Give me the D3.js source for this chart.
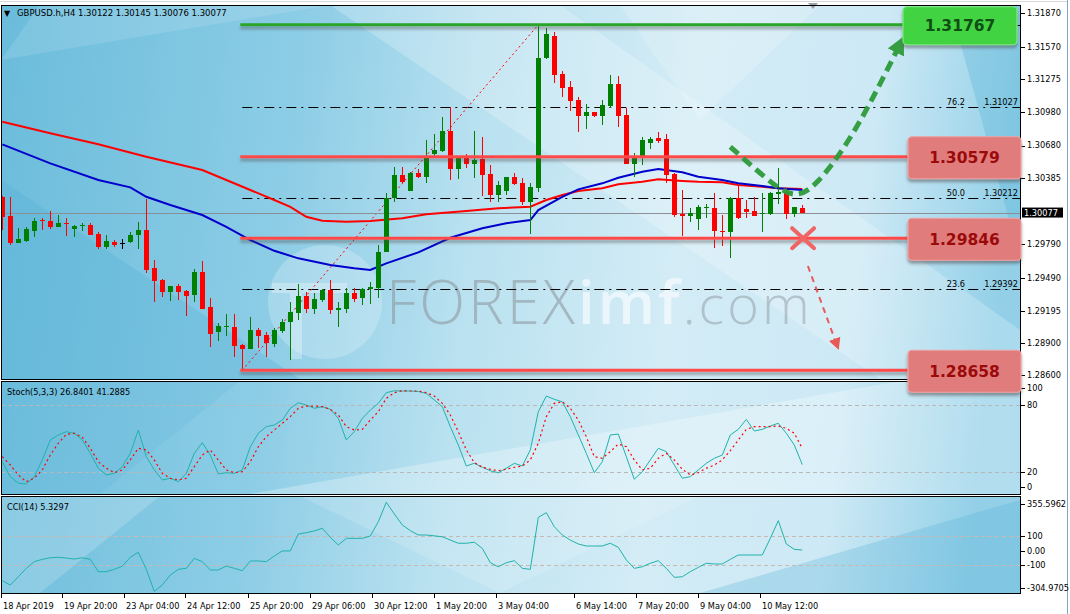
<!DOCTYPE html>
<html><head><meta charset="utf-8">
<script src="https://cdn.jsdelivr.net/npm/d3@7"></script>
<style>
body{margin:0;background:#fff;}
svg{display:block;font-family:"DejaVu Sans",sans-serif;}
</style>
</head><body>
<svg id="c" width="1070" height="614"></svg>
<script>
// ---------------- DATA ----------------
const openP = [1.30219,1.30046,1.29805,1.29823,1.29913,1.30010,1.30001,1.29949,1.29983,1.29926,
1.29956,1.29965,1.29884,1.29769,1.29812,1.29805,1.29812,1.29872,1.29920,1.29575,
1.29470,1.29364,1.29418,1.29373,1.29335,1.29542,1.29227,1.29004,1.29049,1.29044,
1.28885,1.28851,1.29020,1.28975,1.28891,1.29011,1.29089,1.29175,1.29326,1.29206,
1.29290,1.29380,1.29202,1.29209,1.29353,1.29305,1.29389,1.29395,1.29724,1.30210,
1.30415,1.30273,1.30435,1.30399,1.30601,1.30633,1.30811,1.30469,1.30570,1.30514,
1.30559,1.30424,1.30235,1.30271,1.30394,1.30340,1.30174,1.30300,1.31470,1.31666,
1.31321,1.31209,1.31090,1.30948,1.30979,1.30948,1.31038,1.31231,1.30955,1.30516,
1.30570,1.30705,1.30745,1.30739,1.30424,1.30064,1.30048,1.30019,1.30120,1.30120,
1.29911,1.29899,1.30210,1.30109,1.30091,1.30061,1.30066,1.30241,1.30259,1.30064,
1.30122];
const highP = [1.30225,1.30219,1.29935,1.29944,1.30025,1.30025,1.30091,1.30055,1.30030,1.29965,
1.29985,1.29983,1.29904,1.29875,1.29830,1.29836,1.29904,1.29992,1.30199,1.29650,
1.29475,1.29420,1.29434,1.29380,1.29569,1.29638,1.29305,1.29085,1.29164,1.29164,
1.28894,1.29139,1.29035,1.29004,1.29038,1.29119,1.29269,1.29431,1.29359,1.29350,
1.29389,1.29470,1.29269,1.29395,1.29395,1.29395,1.29454,1.29785,1.30250,1.30484,
1.30484,1.30444,1.30466,1.30730,1.30781,1.30939,1.31024,1.30579,1.30601,1.30811,
1.30757,1.30505,1.30363,1.30399,1.30430,1.30385,1.30340,1.31767,1.31740,1.31704,
1.31351,1.31261,1.31119,1.31051,1.30985,1.31090,1.31315,1.31306,1.31020,1.30610,
1.30759,1.30759,1.30804,1.30784,1.30430,1.30280,1.30120,1.30145,1.30151,1.30250,
1.30055,1.30219,1.30325,1.30190,1.30219,1.30250,1.30265,1.30475,1.30295,1.30130,
1.30145];
const lowP = [1.29920,1.29785,1.29800,1.29814,1.29854,1.29920,1.29931,1.29944,1.29868,1.29854,
1.29913,1.29872,1.29749,1.29746,1.29769,1.29746,1.29800,1.29749,1.29530,1.29274,
1.29314,1.29283,1.29290,1.29148,1.29269,1.29205,1.28869,1.28923,1.28968,1.28774,
1.28658,1.28846,1.28855,1.28779,1.28867,1.28990,1.28750,1.29110,1.29175,1.29161,
1.29274,1.29161,1.29049,1.29170,1.29269,1.29245,1.29251,1.29310,1.29720,1.30174,
1.30345,1.30270,1.30385,1.30340,1.30565,1.30624,1.30370,1.30379,1.30480,1.30385,
1.30228,1.30174,1.30174,1.30235,1.30325,1.30145,1.29884,1.30264,1.31459,1.31245,
1.31119,1.30993,1.30804,1.30826,1.30937,1.30865,1.31015,1.30849,1.30510,1.30394,
1.30505,1.30649,1.30700,1.30340,1.30039,1.29868,1.29989,1.29920,1.30025,1.29755,
1.29778,1.29670,1.30019,1.30025,1.30045,1.29904,1.30055,1.30151,1.30019,1.30039,
1.30076];
const closeP = [1.30039,1.29800,1.29836,1.29926,1.30003,1.30001,1.29949,1.29980,1.29974,1.29956,
1.29967,1.29877,1.29769,1.29821,1.29782,1.29805,1.29875,1.29920,1.29560,1.29463,
1.29364,1.29416,1.29364,1.29328,1.29539,1.29211,1.28984,1.29056,1.29056,1.28878,
1.28851,1.29020,1.28968,1.28900,1.29020,1.29094,1.29184,1.29326,1.29209,1.29299,
1.29380,1.29200,1.29220,1.29350,1.29299,1.29389,1.29404,1.29719,1.30210,1.30415,
1.30354,1.30433,1.30397,1.30570,1.30640,1.30811,1.30469,1.30570,1.30514,1.30550,
1.30415,1.30235,1.30325,1.30394,1.30334,1.30174,1.30304,1.31465,1.31684,1.31315,
1.31200,1.31083,1.30948,1.30979,1.30943,1.31045,1.31231,1.30948,1.30516,1.30570,
1.30730,1.30739,1.30721,1.30415,1.30055,1.30046,1.30073,1.30129,1.30129,1.29911,
1.29899,1.30210,1.30025,1.30084,1.30048,1.30073,1.30250,1.30265,1.30064,1.30124,
1.30077];

// moving averages (read at sampled bars)
const maRedIdx = [0,6,12,18,25,31,34,36,38,40,43,46,50,53,58,62,66,68,70,72,75,77,80,82,85,87,90,92,95,97,100];
const maRed = [1.30894,1.30790,1.30691,1.30579,1.30460,1.30280,1.30190,1.30129,1.30039,1.30003,1.29994,1.30001,1.30025,1.30061,1.30091,1.30115,1.30129,1.30190,1.30235,1.30271,1.30295,1.30331,1.30354,1.30376,1.30361,1.30354,1.30349,1.30325,1.30309,1.30295,1.30289];
const maBlueIdx = [0,6,12,16,18,21,25,28,31,34,37,41,44,46,48,52,56,60,63,66,67,70,72,75,77,80,82,85,87,90,92,95,97,100];
const maBlue = [1.30691,1.30520,1.30370,1.30304,1.30219,1.30145,1.30055,1.29949,1.29830,1.29733,1.29665,1.29605,1.29575,1.29560,1.29620,1.29719,1.29850,1.29935,1.29980,1.30010,1.30100,1.30219,1.30286,1.30340,1.30390,1.30444,1.30469,1.30439,1.30399,1.30370,1.30340,1.30316,1.30295,1.30280];

const stochMain = [29.4,16.1,10.2,9.6,16.1,31.0,48.8,53.3,56.2,54.8,
48.8,36.9,23.6,17.6,19.1,25.0,36.9,57.7,33.9,22.1,
13.1,14.7,11.6,19.1,36.9,46.4,35.4,18.5,19.6,19.1,
22.1,42.8,54.8,60.7,62.2,66.6,77.1,82.0,80.0,77.1,
78.5,76.2,68.1,48.8,56.2,68.1,75.5,81.5,91.0,92.7,
92.5,92.5,92.0,90.4,84.5,78.5,60.7,44.3,25.6,28.0,
24.5,21.4,19.6,23.6,28.0,25.6,39.9,74.0,88.0,85.1,
82.9,69.6,53.3,36.9,19.6,29.4,53.3,54.1,33.9,13.8,
20.5,31.0,41.4,38.4,26.5,14.7,16.1,22.1,28.0,32.5,
35.4,53.3,58.3,67.2,56.8,58.3,61.3,63.7,54.8,44.3,
26.84];
const stochSignal = [33.9,26.5,17.6,11.6,14.7,22.1,35.4,45.9,53.9,54.8,
51.2,41.4,29.4,23.6,19.6,22.1,31.0,41.4,39.9,31.0,
19.1,14.7,13.1,14.7,25.0,35.4,39.9,31.0,22.1,19.6,
20.5,29.4,42.8,51.7,57.7,63.7,69.6,77.1,79.1,79.1,
78.5,76.2,71.1,60.7,57.7,58.3,66.6,74.0,86.0,91.0,
92.7,92.5,92.5,91.0,88.0,81.5,71.1,56.2,39.9,28.6,
24.5,22.7,21.4,22.7,24.5,25.6,31.0,45.9,69.6,81.5,
82.9,77.1,66.6,51.7,33.9,32.5,38.4,45.2,42.8,31.0,
22.1,23.6,32.5,36.9,31.0,22.7,17.6,19.6,23.6,26.5,
31.0,39.3,48.8,58.3,60.7,60.7,60.7,61.3,59.2,54.8,
41.29];
const cci = [-206,-236,-179,-121,-75,-59,-48,-45,-50,-57,
-48,-59,-144,-144,-128,-105,-45,-10,-128,-280,
-236,-167,-128,-121,-52,-75,-132,-132,-105,-121,
-137,-70,-70,-75,-36,-1,-1,116,125,137,
155,93,40,86,86,86,102,200,335,254,
178,139,109,109,103,97,74,52,52,59,
17,-82,-110,-82,-68,-121,-128,231,263,166,
109,74,47,33,33,33,52,24,-63,-121,
-110,-86,-68,-121,-183,-179,-144,-114,-86,-91,
-91,-59,-29,-29,-29,-29,86,208,47,10,
5.33];

const priceTicks = [1.31870,1.31570,1.31275,1.30980,1.30680,1.30385,1.29790,1.29490,1.29195,1.28900,1.28600];
const lastPrice = 1.30077;
const stochTicks = [100,80,20,0];
const stochLevels = [80,20];
const cciTicks = [355.5962,100,0,-100,-304.9705];
const cciTickLabels = ["355.5962","100","0.00","-100","-304.9705"];
const cciLevels = [100,-100];
const timeTickIdx = [-0.3,7.4,15.2,22.9,30.7,38.5,46.2,54.0,61.7,71.4,79.2,87.0,94.7];
const timeLabels = ["18 Apr 2019","19 Apr 20:00","23 Apr 04:00","24 Apr 12:00","25 Apr 20:00","29 Apr 06:00","30 Apr 12:00","1 May 20:00","3 May 04:00","6 May 14:00","7 May 20:00","9 May 04:00","10 May 12:00"];
const fibStartIdx = 30, fibEndIdx = 67;
const fibLow = 1.28658, fibHigh = 1.31767;
const fibLevels = [0,23.6,50.0,76.2,100.0];
const fibLabelLevels = [23.6,50.0,76.2];
const levelPrices = [1.31767,1.30579,1.29846,1.28658];
const levelKinds = ["up","down","down","down"];

// ---------------- LAYOUT ----------------
const svg = d3.select("#c");
const PL = 1, PR = 1020;
const mainT = 5, mainB = 379, stT = 381, stB = 494, ccT = 496, ccB = 593;

const x = d3.scaleLinear().domain([0,100]).range([2.3,802.3]);
const yM = d3.scaleLinear().domain([1.28600,1.31870]).range([376.7,13.3]);
const yS = d3.scaleLinear().domain([0,100]).range([494.7,382.6]);
const yC = d3.scaleLinear().domain([-100,100]).range([565.3,536.3]);

const defs = svg.append("defs");
const bg = defs.append("linearGradient").attr("id","bg").attr("gradientUnits","userSpaceOnUse")
  .attr("x1",0).attr("y1",0).attr("x2",1020).attr("y2",120);
[[0,"#6abcdb"],[0.3,"#8dcde6"],[0.48,"#b9e1f0"],[0.68,"#d3ecf6"],[0.86,"#cde9f5"],[1,"#93d0e8"]]
  .forEach(s=>bg.append("stop").attr("offset",s[0]).attr("stop-color",s[1]));
const sh = defs.append("filter").attr("id","shadow").attr("filterUnits","userSpaceOnUse")
  .attr("x",0).attr("y",0).attr("width",1070).attr("height",614);
sh.append("feDropShadow").attr("dx",0).attr("dy",3).attr("stdDeviation",1.6).attr("flood-color","#4a4a4a").attr("flood-opacity",0.5);
const mk = (id,color,size)=>{
  defs.append("marker").attr("id",id).attr("viewBox","0 0 10 10").attr("refX",5).attr("refY",5)
   .attr("markerWidth",size).attr("markerHeight",size).attr("orient","auto-start-reverse")
   .attr("markerUnits","userSpaceOnUse")
   .append("path").attr("d","M0,0 L10,5 L0,10 z").attr("fill",color);
};
mk("arrG","#2e9b3a",18); mk("arrR","#e85a5a",12);

const panels = [[mainT,mainB,"cm"],[stT,stB,"cs"],[ccT,ccB,"cc"]];
panels.forEach(([t,b,id])=>{
  defs.append("clipPath").attr("id",id).append("rect").attr("x",PL).attr("y",t).attr("width",PR-PL).attr("height",b-t);
  svg.append("rect").attr("x",PL).attr("y",t).attr("width",PR-PL).attr("height",b-t).attr("fill","url(#bg)");
});

// facets for the background
const facets = svg.append("g");
const fac = (pts,fill,op,clip)=>facets.append("polygon").attr("points",pts.map(p=>p.join(",")).join(" "))
  .attr("fill",fill).attr("opacity",op).attr("clip-path","url(#"+clip+")");
fac([[330,5],[560,5],[1020,330],[1020,379],[880,379]],"#ffffff",0.22,"cm");
fac([[1,180],[1,379],[300,379]],"#5ab3d6",0.35,"cm");
fac([[40,5],[330,5],[1,60]],"#ffffff",0.12,"cm");
fac([[950,5],[1020,5],[1020,260]],"#5cb4d8",0.35,"cm");
fac([[620,5],[820,5],[700,120]],"#ffffff",0.18,"cm");
fac([[1,381],[240,381],[100,494],[1,494]],"#5ab3d6",0.18,"cs");
fac([[250,494],[900,381],[1020,381],[1020,494]],"#ffffff",0.28,"cs");
fac([[1,496],[160,496],[40,593],[1,593]],"#ffffff",0.18,"cc");
fac([[700,593],[1020,500],[1020,593]],"#5ab3d6",0.3,"cc");
fac([[300,496],[700,496],[500,593]],"#ffffff",0.15,"cc");

// watermark
const wm = svg.append("g").attr("clip-path","url(#cm)");
wm.append("circle").attr("cx",325).attr("cy",302).attr("r",57).attr("fill","#ffffff").attr("opacity",0.22);
wm.append("rect").attr("x",272).attr("y",283).attr("width",75).attr("height",10).attr("fill","#ffffff").attr("opacity",0.3);
wm.append("rect").attr("x",290).attr("y",293).attr("width",12).attr("height",66).attr("fill","#ffffff").attr("opacity",0.3);
const wt = wm.append("text").attr("x",386).attr("y",324).attr("font-family","'Open Sans',sans-serif").attr("font-size",60).attr("font-weight",300).attr("letter-spacing",3);
wt.append("tspan").text("FOREX").attr("fill","#8e9aa0").attr("fill-opacity",0.6);
wt.append("tspan").text("imf").attr("fill","#ffffff").attr("fill-opacity",0.6).attr("font-weight",600);
wt.append("tspan").text(".com").attr("fill","#8e9aa0").attr("fill-opacity",0.5).attr("font-size",54);

// ---------------- MAIN PANEL ----------------
const gM = svg.append("g").attr("clip-path","url(#cm)");

// fib levels (dash-dot)
const fibPrice = l => fibLow + l/100*(fibHigh-fibLow);
gM.selectAll("line.fib").data(fibLevels).join("line")
  .attr("x1",x(fibStartIdx)).attr("x2",PR).attr("y1",d=>Math.round(yM(fibPrice(d)))+0.5).attr("y2",d=>Math.round(yM(fibPrice(d)))+0.5)
  .attr("stroke","#000").attr("stroke-width",1).attr("stroke-dasharray","10,5,2,5");
gM.selectAll("text.fl").data(fibLabelLevels).join("text")
  .attr("x",965).attr("y",d=>yM(fibPrice(d))-2).attr("text-anchor","end").attr("font-size",8.2).attr("fill","#000")
  .text(d=>d.toFixed(1));
gM.selectAll("text.fp").data(fibLabelLevels).join("text")
  .attr("x",1018).attr("y",d=>yM(fibPrice(d))-2).attr("text-anchor","end").attr("font-size",8.2).attr("fill","#000")
  .text(d=>fibPrice(d).toFixed(5));
// fib trend line (dotted red)
gM.append("line").attr("x1",x(fibStartIdx)).attr("y1",yM(fibLow)).attr("x2",x(fibEndIdx)).attr("y2",yM(fibHigh))
  .attr("stroke","#ff0000").attr("stroke-width",1).attr("stroke-dasharray","2,3");

// bid line
gM.append("line").attr("x1",PL).attr("x2",PR).attr("y1",Math.round(yM(lastPrice))+0.5).attr("y2",Math.round(yM(lastPrice))+0.5)
  .attr("stroke","#8a8f96").attr("stroke-width",1);

// moving averages
const lineMA = d3.line().x(d=>x(d[0])).y(d=>yM(d[1]));
gM.append("path").datum(d3.zip(maRedIdx,maRed)).attr("d",lineMA).attr("fill","none").attr("stroke","#ff0000").attr("stroke-width",2);
gM.append("path").datum(d3.zip(maBlueIdx,maBlue)).attr("d",lineMA).attr("fill","none").attr("stroke","#0000cc").attr("stroke-width",2);

// candles
const bars = openP.map((o,i)=>({i,o,h:highP[i],l:lowP[i],c:closeP[i]}));
const ccol = d => d.c>d.o ? "#008000" : (d.c<d.o ? "#ff0000" : "#000000");
const gC = gM.append("g").attr("shape-rendering","crispEdges");
gC.selectAll("line").data(bars).join("line")
  .attr("x1",d=>Math.round(x(d.i))+0.5).attr("x2",d=>Math.round(x(d.i))+0.5)
  .attr("y1",d=>yM(d.h)).attr("y2",d=>yM(d.l)).attr("stroke",ccol).attr("stroke-width",1);
gC.selectAll("rect").data(bars).join("rect")
  .attr("x",d=>Math.round(x(d.i))-2).attr("width",5)
  .attr("y",d=>yM(Math.max(d.o,d.c)))
  .attr("height",d=>Math.max(1,Math.abs(yM(d.o)-yM(d.c))))
  .attr("fill",ccol);

// support / resistance lines (drawn objects, on top of candles)
const boxX = k => k==="up" ? 903 : 908;
gM.selectAll("rect.lvl").data(levelPrices).join("rect").attr("class","lvl")
  .attr("x",x(fibStartIdx)-2).attr("width",(d,i)=>boxX(levelKinds[i])-(x(fibStartIdx)-2))
  .attr("y",d=>yM(d)-1.5).attr("height",3)
  .attr("fill",(d,i)=>levelKinds[i]==="up"?"#2aa52a":"#ff4a4a")
  .attr("filter","url(#shadow)");

// annotations (in data space)
const gA = svg.append("g");
const curveLine = d3.line().x(d=>x(d[0])).y(d=>yM(d[1])).curve(d3.curveBasis);
const greenPath = [[91,1.30669],[95.5,1.30380],[98.8,1.30199],[101.6,1.30298],[106,1.30730],[109.5,1.31200],[112.2,1.31590]];
gA.append("path").datum(greenPath).attr("d",curveLine).attr("fill","none").attr("stroke","#2e9b3a")
  .attr("stroke-width",5).attr("stroke-dasharray","11,6").attr("marker-end","url(#arrG)").attr("opacity",0.95);
const redArrow = [[100.7,1.29596],[104.3,1.28890]];
gA.append("path").datum(redArrow).attr("d",d3.line().x(d=>x(d[0])).y(d=>yM(d[1]))).attr("stroke","#e85a5a")
  .attr("stroke-width",2).attr("stroke-dasharray","6,5").attr("fill","none").attr("marker-end","url(#arrR)");
const cx = x(100.1), cy = yM(levelPrices[2]);
gA.append("path").attr("d",`M${cx-11},${cy-10}L${cx+11},${cy+10}M${cx+11},${cy-10}L${cx-11},${cy+10}`)
  .attr("stroke","#f06464").attr("stroke-width",4).attr("stroke-linecap","round");

// header
svg.append("text").attr("x",4).attr("y",16).attr("font-size",8).attr("fill","#000").text("▼");
svg.append("text").attr("x",17).attr("y",16).attr("font-size",8.5).attr("fill","#000").text("GBPUSD.h,H4  1.30122 1.30145 1.30076 1.30077");
// chart shift marker
svg.append("path").attr("d","M808,3 L818,3 L813,9 z").attr("fill","#9aa0a6");

// ---------------- STOCH ----------------
const gS = svg.append("g").attr("clip-path","url(#cs)");
gS.selectAll("line").data(stochLevels).join("line").attr("x1",PL).attr("x2",PR)
  .attr("y1",d=>Math.round(yS(d))+0.5).attr("y2",d=>Math.round(yS(d))+0.5).attr("stroke","#b8b8b8").attr("stroke-dasharray","4,3");
const lS = d3.line().x((d,i)=>x(i)).y(d=>yS(d));
gS.append("path").datum(stochMain).attr("d",lS).attr("fill","none").attr("stroke","#20b2aa").attr("stroke-width",1);
gS.append("path").datum(stochSignal).attr("d",lS).attr("fill","none").attr("stroke","#ff0000").attr("stroke-width",1.2).attr("stroke-dasharray","2,3");
svg.append("text").attr("x",7).attr("y",395).attr("font-size",8.2).attr("fill","#000").text("Stoch(5,3,3) 26.8401 41.2885");

// ---------------- CCI ----------------
const gCC = svg.append("g").attr("clip-path","url(#cc)");
gCC.selectAll("line").data(cciLevels).join("line").attr("x1",PL).attr("x2",PR)
  .attr("y1",d=>Math.round(yC(d))+0.5).attr("y2",d=>Math.round(yC(d))+0.5).attr("stroke","#c8b8b0").attr("stroke-dasharray","4,3");
const lC = d3.line().x((d,i)=>x(i)).y(d=>yC(d));
gCC.append("path").datum(cci).attr("d",lC).attr("fill","none").attr("stroke","#20b2aa").attr("stroke-width",1);
svg.append("text").attr("x",7).attr("y",510).attr("font-size",8.2).attr("fill","#000").text("CCI(14) 5.3297");

// ---------------- AXES / FRAME ----------------
svg.append("rect").attr("x",PR+1).attr("y",0).attr("width",1066-PR).attr("height",614).attr("fill","#ffffff");
svg.append("rect").attr("x",0).attr("y",ccB+1).attr("width",PR+1).attr("height",614-ccB).attr("fill","#ffffff");
panels.forEach(([t,b])=>{
  svg.append("rect").attr("x",PL+0.5).attr("y",t+0.5).attr("width",PR-PL).attr("height",b-t)
    .attr("fill","none").attr("stroke","#000").attr("stroke-width",1);
});
svg.append("line").attr("x1",1067.5).attr("x2",1067.5).attr("y1",0).attr("y2",614).attr("stroke","#7fa6cc");
svg.append("line").attr("x1",0).attr("x2",1067).attr("y1",1.5).attr("y2",1.5).attr("stroke","#d8d8d8");

const gR = svg.append("g").attr("font-size",8.2).attr("fill","#000");
const rightTicks = (vals,yf,labels,lo,hi)=>{
  vals.forEach((v,i)=>{
    const yy = Math.max(lo,Math.min(hi,yf(v)));
    gR.append("line").attr("x1",PR+1).attr("x2",PR+5).attr("y1",Math.round(yy)+0.5).attr("y2",Math.round(yy)+0.5).attr("stroke","#000");
    gR.append("text").attr("x",PR+7).attr("y",yy).attr("dy","0.36em").text(labels[i]);
  });
};
rightTicks(priceTicks,yM,priceTicks.map(d=>d.toFixed(5)),mainT+6,mainB-4);
rightTicks(stochTicks,yS,stochTicks.map(String),stT+7,stB-7);
rightTicks(cciTicks,yC,cciTickLabels,ccT+8,ccB-5);
// current price tag
const yp = yM(lastPrice);
svg.append("rect").attr("x",PR+2).attr("y",yp-5).attr("width",41).attr("height",10).attr("fill","#000");
svg.append("text").attr("x",PR+4).attr("y",yp).attr("dy","0.36em").attr("font-size",8.2).attr("fill","#fff").text(lastPrice.toFixed(5));

// time axis
const gT = svg.append("g");
timeTickIdx.forEach((t,i)=>{
  const xx = Math.max(1,Math.round(x(t)))+0.5;
  gT.append("line").attr("x1",xx).attr("x2",xx).attr("y1",ccB).attr("y2",ccB+5).attr("stroke","#000");
  gT.append("text").attr("x",xx+1.5).attr("y",609).attr("font-size",8.2).attr("fill","#000").text(timeLabels[i]);
});

// ---------------- BOXES (over everything) ----------------
const gB = svg.append("g");
const boxes = levelPrices.map((p,i)=>({p,k:levelKinds[i]}));
gB.selectAll("rect").data(boxes).join("rect")
  .attr("x",d=>boxX(d.k)).attr("width",d=>d.k==="up"?114:113)
  .attr("y",d=>yM(d.p)+1-(d.k==="up"?19:21)).attr("height",d=>d.k==="up"?38:42)
  .attr("rx",4).attr("fill",d=>d.k==="up"?"#43d343":"#e07b7b")
  .attr("stroke",d=>d.k==="up"?"#7ee87e":"#f0a3a3").attr("stroke-width",1.2).attr("filter","url(#shadow)");
gB.selectAll("text").data(boxes).join("text")
  .attr("x",d=>boxX(d.k)+(d.k==="up"?57:56.5)).attr("y",d=>yM(d.p)+1).attr("dy","0.36em")
  .attr("text-anchor","middle").attr("font-size",15.5).attr("font-weight","bold")
  .attr("fill",d=>d.k==="up"?"#0e4f12":"#9b0a0a").text(d=>d.p.toFixed(5));
</script>
</body></html>
